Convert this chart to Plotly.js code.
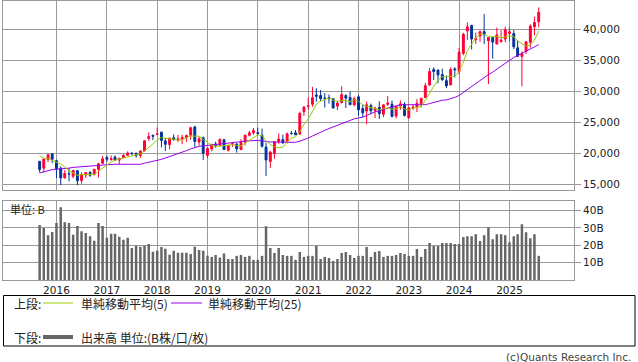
<!DOCTYPE html>
<html><head><meta charset="utf-8">
<script src="https://cdn.plot.ly/plotly-3.0.1.min.js"></script>
<style>html,body{margin:0;padding:0;background:#fff;}#chart{width:638px;height:362px;}</style>
</head><body><div id="chart"></div>
<script>
// Monthly candles, Sep 2015 - Aug 2025
const months = [
 "2015-09-01","2015-10-01","2015-11-01","2015-12-01",
 "2016-01-01","2016-02-01","2016-03-01","2016-04-01","2016-05-01","2016-06-01","2016-07-01","2016-08-01","2016-09-01","2016-10-01","2016-11-01","2016-12-01",
 "2017-01-01","2017-02-01","2017-03-01","2017-04-01","2017-05-01","2017-06-01","2017-07-01","2017-08-01","2017-09-01","2017-10-01","2017-11-01","2017-12-01",
 "2018-01-01","2018-02-01","2018-03-01","2018-04-01","2018-05-01","2018-06-01","2018-07-01","2018-08-01","2018-09-01","2018-10-01","2018-11-01","2018-12-01",
 "2019-01-01","2019-02-01","2019-03-01","2019-04-01","2019-05-01","2019-06-01","2019-07-01","2019-08-01","2019-09-01","2019-10-01","2019-11-01","2019-12-01",
 "2020-01-01","2020-02-01","2020-03-01","2020-04-01","2020-05-01","2020-06-01","2020-07-01","2020-08-01","2020-09-01","2020-10-01","2020-11-01","2020-12-01",
 "2021-01-01","2021-02-01","2021-03-01","2021-04-01","2021-05-01","2021-06-01","2021-07-01","2021-08-01","2021-09-01","2021-10-01","2021-11-01","2021-12-01",
 "2022-01-01","2022-02-01","2022-03-01","2022-04-01","2022-05-01","2022-06-01","2022-07-01","2022-08-01","2022-09-01","2022-10-01","2022-11-01","2022-12-01",
 "2023-01-01","2023-02-01","2023-03-01","2023-04-01","2023-05-01","2023-06-01","2023-07-01","2023-08-01","2023-09-01","2023-10-01","2023-11-01","2023-12-01",
 "2024-01-01","2024-02-01","2024-03-01","2024-04-01","2024-05-01","2024-06-01","2024-07-01","2024-08-01","2024-09-01","2024-10-01","2024-11-01","2024-12-01",
 "2025-01-01","2025-02-01","2025-03-01","2025-04-01","2025-05-01","2025-06-01","2025-07-01","2025-08-01"
];
const openP = [
 18700,17600,19000,19900,
 18818,17600,16050,16700,16300,17200,15600,16500,16900,16600,17400,18400,
 19300,19000,19400,18900,19300,19700,20000,19985,19650,20400,22400,22900,
 23073,23400,22000,21400,22500,22200,22300,22500,22900,24245,21800,22500,
 19655,20700,21500,21300,22190,20500,21500,21500,20600,21800,22900,23300,
 23319,22900,21000,18686,19991,21900,22200,21900,23200,23300,23100,26700,
 27575,27900,29400,29300,28900,29000,28800,27600,28200,29300,29000,27800,
 29098,27200,26800,27700,26900,27400,26300,27900,27900,26000,27600,27900,
 25700,27300,27500,28000,29000,31000,33500,33400,32700,31700,31000,33600,
 33200,36100,39700,40600,38300,38900,39600,38140,38700,37600,38000,38400,
 39300,39300,37000,35600,36400,37900,40400,41200
];
const highP = [
 18770,19118,19937,20012,
 18951,17905,17291,17613,17251,17250,16938,16942,17159,17446,18476,19592,
 19615,19668,19668,19289,19849,20318,20223,20133,20481,22060,23382,23000,
 24129,23486,22502,22467,23050,22966,22949,23000,24286,24448,22698,22698,
 20940,21556,21860,22362,22250,21300,21823,21600,22255,22974,23608,24091,
 24116,23995,21719,20365,21916,23185,23000,23338,23625,23725,26706,27602,
 28979,30714,30485,30208,29685,29480,28852,28452,30795,29490,29960,29121,
 29388,27880,28338,28000,27500,28389,27850,29222,28500,27600,28502,28226,
 27500,27800,28734,28900,31352,33772,33853,33488,33634,32533,33853,33853,
 36984,39426,41087,40697,39437,39800,42426,38500,38794,40257,39800,40398,
 40288,39865,38220,36400,38100,40800,42000,43500
];
const lowP = [
 16901,16900,18600,18413,
 16017,14865,15900,15471,15975,14864,15106,15999,16204,16428,16111,18253,
 18650,18805,18800,18224,19200,19600,19800,19280,19240,20300,21972,22119,
 23000,20950,20347,20618,22000,21800,21462,21851,22172,20971,21243,18948,
 19241,20315,20911,21200,20550,20289,21000,20110,20500,21276,22700,23000,
 22892,20916,16358,17646,19132,21529,21500,21600,22980,22948,22948,26026,
 27055,27500,28308,28419,27385,28010,27272,26954,28000,27293,27800,27588,
 26044,25775,24681,26304,25688,25520,25812,27600,25800,25621,27000,25951,
 25661,27000,26632,27400,28900,30900,31791,31275,31674,30487,31000,32205,
 32693,35800,38271,36733,37617,37950,37611,31156,35247,37600,37801,37900,
 38055,36800,35526,30792,36000,37000,39000,40300
];
const closeP = [
 17388,19083,19747,19033,
 17518,16026,16758,16666,17234,15575,16569,16887,16449,17425,18308,19114,
 19041,19118,18909,19196,19650,20033,19925,19646,20356,22011,22724,22764,
 23098,22068,21454,22467,22201,22304,22554,22865,24120,21920,22351,20015,
 20773,21385,21205,22258,20601,21276,21521,20704,21756,22927,23294,23657,
 23205,21143,18917,20194,21878,22288,21710,23140,23185,22977,26434,27444,
 27663,28966,29179,28813,28860,28792,27284,28090,29453,28893,27822,28792,
 27002,26527,27821,26848,27280,26393,27802,28092,25937,27587,27969,26095,
 27327,27446,28041,28856,30888,33189,33172,32619,31858,30859,33487,33464,
 36287,39166,40369,38406,38488,39583,39102,38648,37920,39081,38208,39895,
 39572,37156,35618,36045,37965,40487,41070,42718
];
// closes of the 24 months before the first candle (Sep 2013 - Aug 2015), needed for the averages
const priorClose = [
 14456,14328,15662,16291,
 14915,14841,14828,14304,14632,15162,15621,15425,16174,16414,17460,17451,
 17674,18798,19207,19520,20563,20236,20585,18890
];
// volume, unit B
const volumeB = [
 31.7,30.0,25.8,27.7,
 32.8,41.9,33.2,32.8,26.0,31.1,28.1,27.1,25.2,22.6,32.8,31.1,
 24.3,26.6,26.6,24.9,23.1,24.3,18.4,19.7,19.2,19.7,20.7,16.3,
 16.9,19.0,18.0,14.6,16.9,15.7,15.7,15.7,15.0,19.2,17.3,16.9,
 14.0,13.3,14.4,12.9,15.2,12.1,12.1,13.9,14.4,13.3,13.9,11.6,
 11.6,13.9,30.9,18.4,15.6,18.4,14.4,13.9,13.9,11.6,16.1,13.3,
 13.9,13.9,19.7,12.1,13.3,12.7,11.0,12.1,15.6,16.1,14.4,12.7,
 13.9,13.9,19.0,13.3,16.1,16.7,13.3,13.9,13.9,14.4,15.6,15.0,
 13.9,13.9,17.8,13.3,17.8,21.3,19.5,19.5,21.3,21.3,21.3,20.7,
 20.7,24.7,25.2,25.2,26.4,22.4,25.8,30.4,23.5,26.4,26.4,25.8,
 21.8,25.2,26.4,32.1,27.5,24.1,26.4,13.9
];
const yearTicks = ["2016-01-01","2017-01-01","2018-01-01","2019-01-01","2020-01-01","2021-01-01","2022-01-01","2023-01-01","2024-01-01","2025-01-01"];
const yearLabels = ["2016","2017","2018","2019","2020","2021","2022","2023","2024","2025"];
const priceTicks = [15000,20000,25000,30000,35000,40000];
const volTicks = [10,20,30,40];
const volTickText = ["10B","20B","30B","40B"];

function sma(n){
  const all = priorClose.concat(closeP);
  const off = priorClose.length;
  return closeP.map((_,i)=>{
    let s=0; for(let k=0;k<n;k++) s+=all[off+i-k];
    return s/n;
  });
}
const ma5 = sma(5), ma25 = sma(25);

const RED="#ff0033", BLUE="#003399", GREEN="#99cc00", PURPLE="#9900ee", GRID="#999999";
const W=638,H=362,ML=3,MR=64,MT=1,MB=82;
const PW=W-ML-MR, PH=H-MT-MB;
const px = x => (x-ML)/PW;
const py = y => (H-MB-y)/PH;

const traces = [
 {type:"candlestick", x:months, open:openP, high:highP, low:lowP, close:closeP,
  xaxis:"x", yaxis:"y", whiskerwidth:0, hoverinfo:"skip",
  increasing:{line:{color:RED,width:1},fillcolor:RED},
  decreasing:{line:{color:BLUE,width:1},fillcolor:BLUE}},
 {type:"scatter", mode:"lines", x:months, y:ma25, xaxis:"x", yaxis:"y", line:{color:PURPLE,width:1}, hoverinfo:"skip"},
 {type:"scatter", mode:"lines", x:months, y:ma5, xaxis:"x", yaxis:"y", line:{color:GREEN,width:1}, hoverinfo:"skip"},
 {type:"bar", x:months, y:volumeB, xaxis:"x2", yaxis:"y2", marker:{color:"#666666"}, width:18*86400000, hoverinfo:"skip"}
];
const xr = ["2014-12-09","2026-04-14"];
const font = {family:"DejaVu Sans, Verdana, sans-serif", size:10.5, color:"#222"};
const cjk = {family:"Noto Sans CJK JP, sans-serif", size:12, color:"#222"};
const layout = {
  width:W, height:H, margin:{l:ML,r:MR,t:MT,b:MB}, showlegend:false,
  paper_bgcolor:"#fff", plot_bgcolor:"#fff", font:font,
  xaxis:{type:"date", domain:[0,1], anchor:"y", range:xr, rangeslider:{visible:false},
    tickmode:"array", tickvals:yearTicks, showticklabels:false, ticks:"",
    showgrid:true, gridcolor:GRID, gridwidth:1, showline:true, linecolor:GRID, mirror:true, zeroline:false},
  yaxis:{domain:[py(190),1], anchor:"x", side:"right", range:[14087,44535], tickvals:priceTicks,
    tickformat:",d", ticks:"outside", ticklen:6, tickcolor:GRID, showgrid:true, gridcolor:GRID,
    showline:true, linecolor:GRID, mirror:true, zeroline:false, tickfont:font},
  xaxis2:{type:"date", domain:[0,1], anchor:"y2", range:xr, tickmode:"array", tickvals:yearTicks,
    ticktext:yearLabels, ticks:"", showgrid:true, gridcolor:GRID, showline:true, linecolor:GRID,
    mirror:true, zeroline:false, tickfont:font},
  yaxis2:{domain:[0,py(201.3)], anchor:"x2", side:"right", range:[0,45.3], tickvals:volTicks,
    ticktext:volTickText, ticks:"outside", ticklen:6, tickcolor:GRID, showgrid:true, gridcolor:GRID,
    showline:true, linecolor:GRID, mirror:true, zeroline:false, tickfont:font},
  shapes:[
    {type:"rect", xref:"paper", yref:"paper", x0:px(3.5), x1:px(635), y0:py(346), y1:py(295.5), line:{color:"#000",width:1}},
    {type:"line", xref:"paper", yref:"paper", x0:px(43), x1:px(73), y0:py(303), y1:py(303), line:{color:GREEN,width:1}},
    {type:"line", xref:"paper", yref:"paper", x0:px(171), x1:px(202), y0:py(303), y1:py(303), line:{color:PURPLE,width:1}},
    {type:"line", xref:"paper", yref:"paper", x0:px(43), x1:px(73), y0:py(337), y1:py(337), line:{color:"#666666",width:4}}
  ],
  annotations:[
    {xref:"paper",yref:"paper",x:px(8),y:py(209),xanchor:"left",yanchor:"middle",text:"単位: B",showarrow:false,font:{family:cjk.family,size:11,color:"#222"}},
    {xref:"paper",yref:"paper",x:px(12),y:py(303),xanchor:"left",yanchor:"middle",text:"上段:",showarrow:false,font:cjk},
    {xref:"paper",yref:"paper",x:px(79),y:py(303),xanchor:"left",yanchor:"middle",text:"単純移動平均(5)",showarrow:false,font:cjk},
    {xref:"paper",yref:"paper",x:px(206),y:py(303),xanchor:"left",yanchor:"middle",text:"単純移動平均(25)",showarrow:false,font:cjk},
    {xref:"paper",yref:"paper",x:px(12),y:py(337),xanchor:"left",yanchor:"middle",text:"下段:",showarrow:false,font:cjk},
    {xref:"paper",yref:"paper",x:px(79),y:py(337),xanchor:"left",yanchor:"middle",text:"出来高 単位:(B株/口/枚)",showarrow:false,font:cjk},
    {xref:"paper",yref:"paper",x:px(633),y:py(357),xanchor:"right",yanchor:"middle",text:"(c)Quants Research Inc.",showarrow:false,font:{family:"DejaVu Sans, sans-serif",size:10.5,color:"#444"}}
  ]
};
Plotly.newPlot("chart", traces, layout, {displayModeBar:false, staticPlot:true});
</script></body></html>
